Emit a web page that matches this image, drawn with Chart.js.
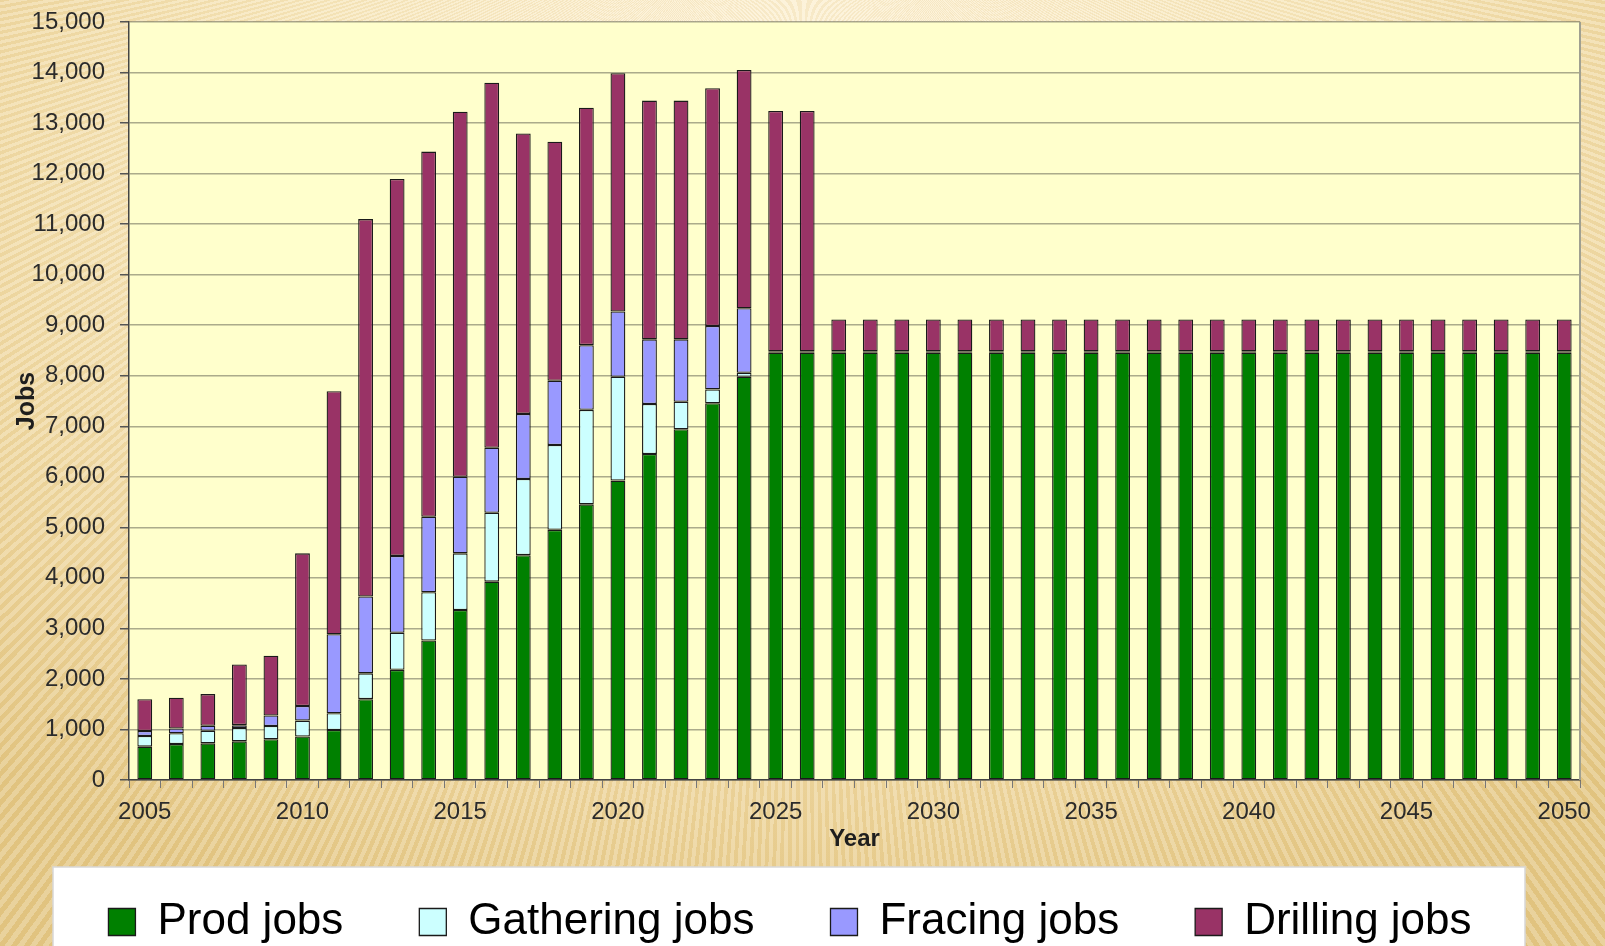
<!DOCTYPE html>
<html>
<head>
<meta charset="utf-8">
<title>Jobs by year</title>
<script src="https://cdn.jsdelivr.net/npm/chart.js@4.4.1/dist/chart.umd.min.js"></script>
<style>
html, body { margin: 0; padding: 0; width: 1605px; height: 946px; overflow: hidden; }
body {
  background:
    repeating-conic-gradient(from 0deg at 50% -15%, rgba(255,255,255,0.20) 0deg 0.22deg, rgba(190,150,70,0.08) 0.22deg 0.44deg),
    radial-gradient(ellipse 75% 85% at 50% 18%, #FFF6E2 0%, #F8E8BE 45%, #EDD49A 80%, #E4C784 100%);
}
#wrap { position: absolute; left: 0; top: 0; width: 1605px; height: 946px; }
</style>
</head>
<body>
<div id="wrap"><canvas id="chart"></canvas></div>
<script>
// ---- data ----
const years = ['2005','2006','2007','2008','2009','2010','2011','2012','2013','2014',
  '2015','2016','2017','2018','2019','2020','2021','2022','2023','2024',
  '2025','2026','2027','2028','2029','2030','2031','2032','2033','2034',
  '2035','2036','2037','2038','2039','2040','2041','2042','2043','2044',
  '2045','2046','2047','2048','2049','2050'];

const xTickLabels = ['2005','2010','2015','2020','2025','2030','2035','2040','2045','2050'];

const prodJobs = [660,710,725,765,805,860,990,1600,2180,2760,
  3365,3925,4450,4950,5455,5925,6450,6940,7455,7980,
  8455,8455,8455,8455,8455,8455,8455,8455,8455,8455,
  8455,8455,8455,8455,8455,8455,8455,8455,8455,8455,
  8455,8455,8455,8455,8455,8455];

const gatheringJobs = [210,215,250,265,265,315,330,510,735,955,
  1120,1365,1505,1680,1870,2055,990,545,275,80,
  30,30,30,30,30,30,30,30,30,30,
  30,30,30,30,30,30,30,30,30,30,
  30,30,30,30,30,30];

const fracingJobs = [100,95,100,55,205,290,1565,1520,1520,1495,
  1515,1285,1290,1270,1280,1290,1280,1235,1255,1275,
  0,0,0,0,0,0,0,0,0,0,
  0,0,0,0,0,0,0,0,0,0,
  0,0,0,0,0,0];

const drillingJobs = [630,610,625,1200,1185,3020,4810,7470,7460,7225,
  7225,7225,5550,4730,4700,4715,4725,4725,4705,4715,
  4755,4755,630,630,630,630,630,630,630,630,
  630,630,630,630,630,630,630,630,630,630,
  630,630,630,630,630,630];

const seriesNames = ['Prod jobs','Gathering jobs','Fracing jobs','Drilling jobs'];
const yMin = 0, yMax = 15000, yStep = 1000;

// ---- styling ----
const FONT = "'Liberation Sans', Arial, sans-serif";
const colors = ['#008000', '#CCFFFF', '#9999FF', '#993366'];

const backdrop = {
  id: 'backdrop',
  beforeDraw(chart) {
    const {ctx, chartArea: a} = chart;
    ctx.save();
    // plot area fill
    ctx.fillStyle = '#FFFFCC';
    ctx.fillRect(a.left, a.top, a.right - a.left, a.bottom - a.top);
    // legend white panel
    const top = a.bottom + 87;
    ctx.fillStyle = '#FFFFFF';
    ctx.fillRect(53, top, 1472, chart.height - top);
    ctx.strokeStyle = '#D8D8D8';
    ctx.lineWidth = 1.5;
    ctx.beginPath();
    ctx.moveTo(53, chart.height);
    ctx.lineTo(53, top);
    ctx.lineTo(1525, top);
    ctx.lineTo(1525, chart.height);
    ctx.stroke();
    ctx.restore();
  },
  afterDraw(chart) {
    const {ctx, chartArea: a} = chart;
    ctx.save();
    ctx.strokeStyle = '#A0A090';
    ctx.lineWidth = 2;
    ctx.beginPath();
    ctx.moveTo(a.right, a.top);
    ctx.lineTo(a.right, a.bottom);
    ctx.stroke();
    ctx.restore();
  }
};

const dataSeries = [prodJobs, gatheringJobs, fracingJobs, drillingJobs];

new Chart(document.getElementById('chart'), {
  type: 'bar',
  data: {
    labels: years,
    datasets: dataSeries.map((d, i) => ({
      label: seriesNames[i],
      data: d,
      backgroundColor: colors[i],
      borderColor: '#1a1a1a',
      borderWidth: 1.3,
      borderSkipped: false,
      categoryPercentage: 0.47,
      barPercentage: 1.0
    }))
  },
  options: {
    responsive: true,
    maintainAspectRatio: false,
    animation: false,
    layout: { padding: { left: 0, right: 25, top: 22, bottom: -8 } },
    plugins: {
      tooltip: { enabled: false },
      legend: {
        position: 'bottom',
        labels: {
          color: '#000',
          font: { family: FONT, size: 44 },
          boxWidth: 27,
          boxHeight: 27,
          padding: 76
        }
      }
    },
    scales: {
      x: {
        stacked: true,
        grid: { display: true, drawOnChartArea: false, offset: true, tickLength: 8, color: '#777', lineWidth: 1 },
        border: { color: '#444', width: 1.5 },
        ticks: {
          autoSkip: false, maxRotation: 0, minRotation: 0, padding: 10,
          color: '#2b2b2b',
          font: { family: FONT, size: 24 },
          callback: function (v, i) { const l = years[i]; return xTickLabels.includes(l) ? l : ''; }
        },
        title: {
          display: true, text: 'Year', color: '#1e1e1e',
          font: { family: FONT, size: 24, weight: 'bold' },
          padding: { top: 0, bottom: -30 }
        },
        afterFit(scale) { scale.height = 44; }
      },
      y: {
        stacked: true,
        min: yMin, max: yMax,
        grid: { color: 'rgba(115,115,95,0.6)', lineWidth: 1.5, tickLength: 9, tickColor: '#555' },
        border: { color: '#444', width: 1.5 },
        ticks: {
          stepSize: yStep, padding: 15, color: '#2b2b2b',
          font: { family: FONT, size: 24 },
          callback: v => Number(v).toLocaleString('en-US')
        },
        title: {
          display: true, text: 'Jobs', color: '#1e1e1e',
          font: { family: FONT, size: 25, weight: 'bold' },
          padding: { top: 12, bottom: 0 }
        },
        afterFit(scale) { scale.width = 129; scale.paddingTop = 0; scale.paddingBottom = 0; }
      }
    }
  },
  plugins: [backdrop]
});
</script>
</body>
</html>
